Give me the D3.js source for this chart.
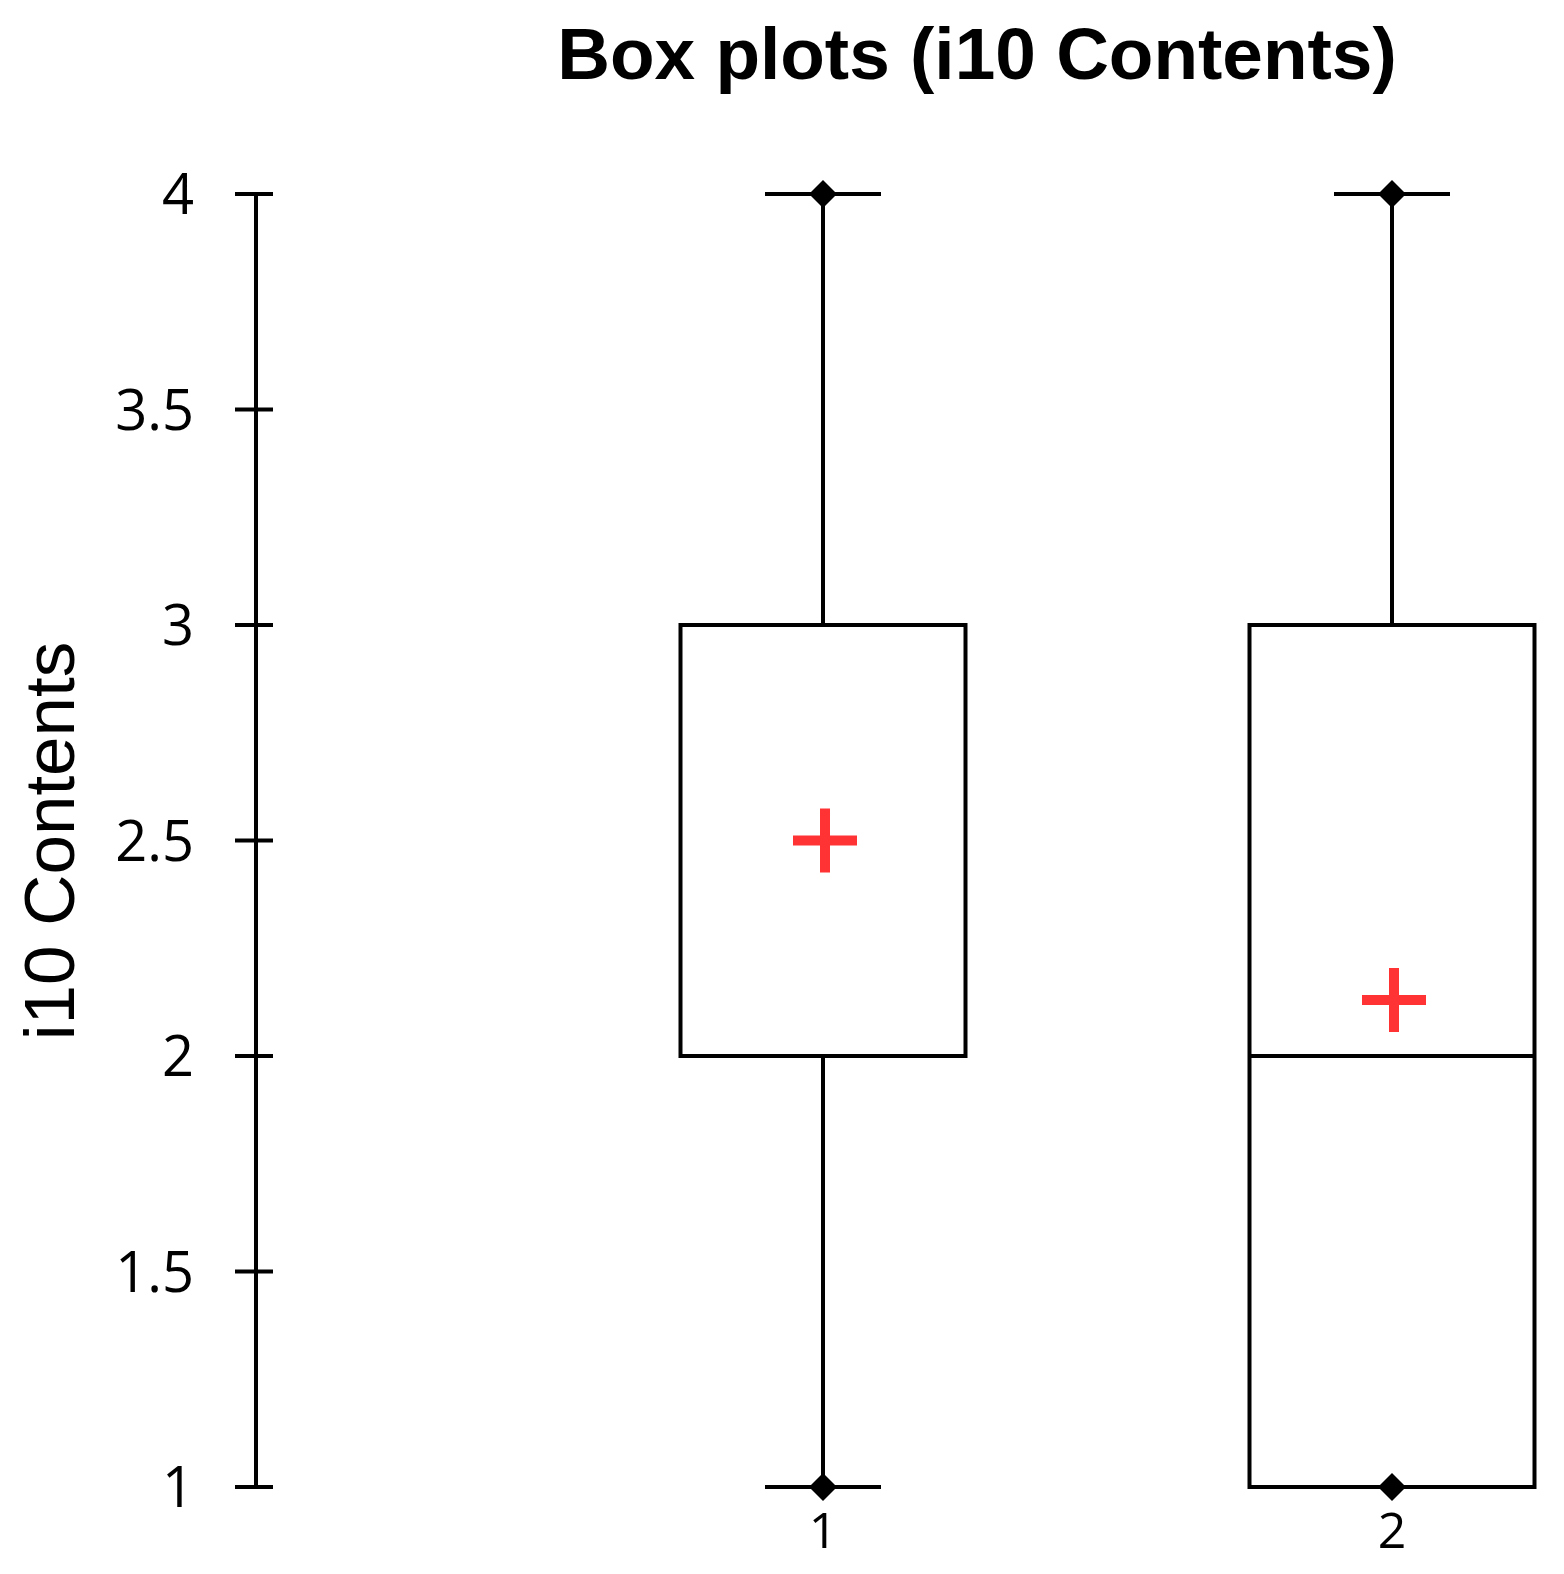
<!DOCTYPE html>
<html>
<head>
<meta charset="utf-8">
<script src="https://cdn.jsdelivr.net/npm/d3@7"></script>
<style>
  body { margin: 0; background: #fff; }
  svg { display: block; }
</style>
</head>
<body>
<div id="chart"></div>
<script>
// box plot summary values
var categories = ["1", "2"];
var minVals = [1, 1];
var q1Vals = [2, 1];
var medianVals = [2, 2];
var q3Vals = [3, 3];
var maxVals = [4, 4];
var meanVals = [2.5, 2.13];
var yTicks = [1, 1.5, 2, 2.5, 3, 3.5, 4];

var W = 1564, H = 1574;
var SW = 4; // line width

var svg = d3.select("#chart").append("svg")
    .attr("width", W)
    .attr("height", H);

var y = d3.scaleLinear().domain([1, 4]).range([1487, 194]);
var x = d3.scalePoint().domain(categories).range([823, 1392]);
var boxW = 285, capW = 116;

// title
svg.append("text")
    .attr("x", 977)
    .attr("y", 79)
    .attr("text-anchor", "middle")
    .style("font-family", "Liberation Sans, Arial, sans-serif")
    .style("font-weight", "bold")
    .style("font-size", "73px")
    .text("Box plots (i10 Contents)");

// y axis label
svg.append("text")
    .attr("transform", "translate(74,841) rotate(-90)")
    .attr("text-anchor", "middle")
    .style("font-family", "Liberation Sans, Arial, sans-serif")
    .style("font-size", "71px")
    .text("i10 Contents");

// y axis: ticks cross the axis line
var yAxis = svg.append("g").attr("transform", "translate(256,0)");
yAxis.append("line")
    .attr("y1", y(1)).attr("y2", y(4))
    .attr("stroke", "#000").attr("stroke-width", SW);
yAxis.selectAll(".tick").data(yTicks).enter().append("line")
    .attr("x1", -21).attr("x2", 17)
    .attr("y1", function(d){ return y(d); })
    .attr("y2", function(d){ return y(d); })
    .attr("stroke", "#000").attr("stroke-width", SW);
yAxis.selectAll(".lbl").data(yTicks).enter().append("text")
    .attr("x", -62)
    .attr("y", function(d){ return y(d); })
    .attr("dy", "0.36em")
    .attr("text-anchor", "end")
    .style("font-family", "Open Sans, sans-serif")
    .style("font-size", "56px")
    .text(function(d){ return d; });

var g = svg.selectAll(".box").data(categories).enter().append("g");

// whiskers
g.append("line")
    .attr("x1", function(d){ return x(d); }).attr("x2", function(d){ return x(d); })
    .attr("y1", function(d, i){ return y(maxVals[i]); })
    .attr("y2", function(d, i){ return y(minVals[i]); })
    .attr("stroke", "#000").attr("stroke-width", SW);

// caps
[maxVals, minVals].forEach(function(arr){
    g.append("line")
        .attr("x1", function(d){ return x(d) - capW / 2; })
        .attr("x2", function(d){ return x(d) + capW / 2; })
        .attr("y1", function(d, i){ return y(arr[i]); })
        .attr("y2", function(d, i){ return y(arr[i]); })
        .attr("stroke", "#000").attr("stroke-width", SW);
});

// boxes
g.append("rect")
    .attr("x", function(d){ return x(d) - boxW / 2; })
    .attr("width", boxW)
    .attr("y", function(d, i){ return y(q3Vals[i]); })
    .attr("height", function(d, i){ return y(q1Vals[i]) - y(q3Vals[i]); })
    .attr("fill", "#fff")
    .attr("stroke", "#000").attr("stroke-width", SW);

// median
g.append("line")
    .attr("x1", function(d){ return x(d) - boxW / 2; })
    .attr("x2", function(d){ return x(d) + boxW / 2; })
    .attr("y1", function(d, i){ return y(medianVals[i]); })
    .attr("y2", function(d, i){ return y(medianVals[i]); })
    .attr("stroke", "#000").attr("stroke-width", SW);

// min / max diamonds
[maxVals, minVals].forEach(function(arr){
    g.append("path")
        .attr("d", "M0,-14L14,0L0,14L-14,0Z")
        .attr("transform", function(d, i){ return "translate(" + x(d) + "," + y(arr[i]) + ")"; })
        .attr("fill", "#000");
});

// mean crosses
g.append("path")
    .attr("d", "M-32,0H32M0,-32V32")
    .attr("transform", function(d, i){ return "translate(" + (x(d) + 2) + "," + y(meanVals[i]) + ")"; })
    .attr("stroke", "#ff3333").attr("stroke-width", 10).attr("fill", "none");

// x tick labels
g.append("text")
    .attr("x", function(d){ return x(d); })
    .attr("y", 1548)
    .attr("text-anchor", "middle")
    .style("font-family", "Open Sans, sans-serif")
    .style("font-size", "50px")
    .text(function(d){ return d; });
</script>
</body>
</html>
